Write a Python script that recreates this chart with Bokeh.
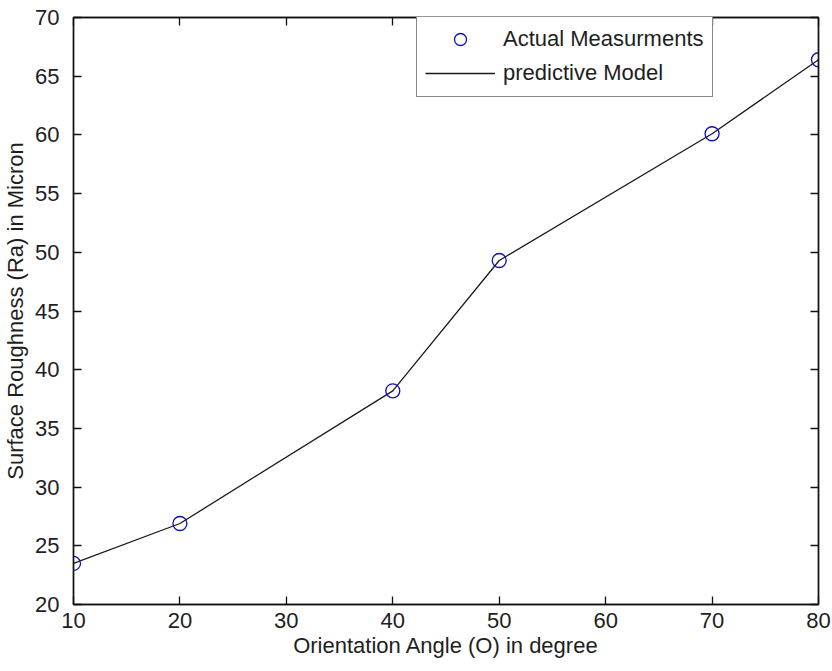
from bokeh.plotting import figure
from bokeh.models import ColumnDataSource, LinearAxis, Legend, LegendItem, FixedTicker
from bokeh.embed import file_html
from bokeh.resources import INLINE

# Orientation angle (degrees) vs measured surface roughness Ra (micron)
angles = [10, 20, 40, 50, 70, 80]
roughness = [23.5, 26.9, 38.2, 49.3, 60.1, 66.4]

x_ticks = [10, 20, 30, 40, 50, 60, 70, 80]
y_ticks = [20, 25, 30, 35, 40, 45, 50, 55, 60, 65, 70]

FONT = "Liberation Sans"
TEXT = "#1e1e1e"
SIZE = "22px"

src = ColumnDataSource(data=dict(x=angles, y=roughness))

p = figure(
    width=832, height=671,
    x_range=(10, 80), y_range=(20, 70),
    output_backend="svg", toolbar_location=None,
    min_border_left=73, min_border_right=14,
    min_border_top=17, min_border_bottom=67,
)
p.background_fill_color = "white"
p.border_fill_color = "white"
p.outline_line_color = "#111111"
p.outline_line_width = 1.4
p.grid.visible = False

model = p.line("x", "y", source=src, line_color="#1a1a1a", line_width=1.3)
meas = p.scatter("x", "y", source=src, marker="circle", size=14,
                 fill_color=None, line_color="#1010b8", line_width=1.3)

def style_axis(ax, ticks, show_labels=True):
    ax.ticker = FixedTicker(ticks=ticks)
    ax.minor_tick_line_color = None
    ax.major_tick_in = 8
    ax.major_tick_out = 0
    ax.major_tick_line_color = "#111111"
    ax.major_tick_line_width = 1.3
    ax.axis_line_color = "#111111"
    ax.axis_line_width = 1.4
    ax.major_label_text_font = FONT
    if show_labels:
        ax.major_label_text_font_size = SIZE
        ax.major_label_text_color = TEXT
    else:
        # tick marks only on the mirrored axes
        ax.major_label_text_font_size = "1px"
        ax.major_label_text_color = None
        ax.major_label_standoff = 0

xa = p.xaxis[0]
ya = p.yaxis[0]
style_axis(xa, x_ticks)
style_axis(ya, y_ticks)
xa.major_label_standoff = 8
ya.major_label_standoff = 14

xa.axis_label = "Orientation Angle (O) in degree"
ya.axis_label = "Surface Roughness (Ra) in Micron"
for ax in (xa, ya):
    ax.axis_label_text_font = FONT
    ax.axis_label_text_font_size = SIZE
    ax.axis_label_text_font_style = "normal"
    ax.axis_label_text_color = TEXT
xa.axis_label_standoff = 2
ya.axis_label_standoff = 4

top_ax = LinearAxis()
right_ax = LinearAxis()
style_axis(top_ax, x_ticks, show_labels=False)
style_axis(right_ax, y_ticks, show_labels=False)
p.add_layout(top_ax, "above")
p.add_layout(right_ax, "right")

legend = Legend(
    items=[
        LegendItem(label="Actual Measurments", renderers=[meas]),
        LegendItem(label="predictive Model", renderers=[model]),
    ],
    location=(343, 507),
    orientation="vertical",
)
legend.label_text_font = FONT
legend.label_text_font_size = SIZE
legend.label_text_color = TEXT
legend.glyph_width = 70
legend.glyph_height = 30
legend.label_height = 30
legend.label_standoff = 8
legend.spacing = 4
legend.padding = 8
legend.margin = 0
legend.border_line_color = "#111111"
legend.border_line_width = 1.4
legend.background_fill_alpha = 1.0
legend.background_fill_color = "white"
p.add_layout(legend, "center")

open("out.html", "w").write(file_html(p, INLINE))
